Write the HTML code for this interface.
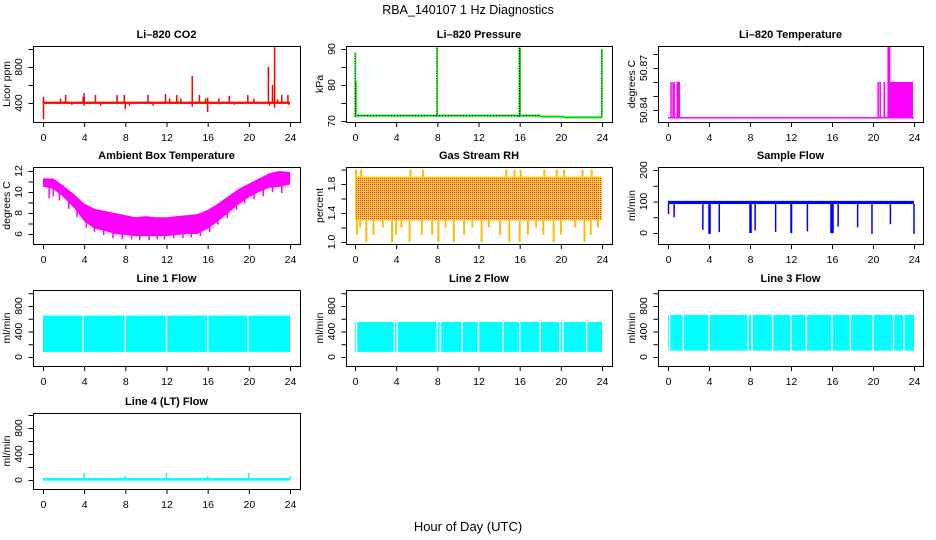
<!DOCTYPE html>
<html><head><meta charset="utf-8"><style>
html,body{margin:0;padding:0;background:#fff;}
svg{display:block;font-family:"Liberation Sans",sans-serif;}
</style></head><body>
<svg id="chart" width="936" height="540" viewBox="0 0 936 540" xmlns="http://www.w3.org/2000/svg">
<defs>
<pattern id="rhpat" width="2" height="2" patternUnits="userSpaceOnUse">
<rect width="2" height="2" fill="#ffdd00"/><rect width="1" height="1" fill="#ff2000"/>
</pattern>
</defs>
<text x="468" y="14" text-anchor="middle" font-size="12.5">RBA_140107  1 Hz Diagnostics</text>
<text x="468" y="531" text-anchor="middle" font-size="13">Hour of Day (UTC)</text>
</svg>
<script>
// ---- data ----
const hourTicks = [0,4,8,12,16,20,24];
// CO2
const co2Base = 400;
const co2SpikeHours = [0.05,0.05,1.7,2.2,2.8,3.9,4.0,4.0,5.1,5.6,7.2,7.9,8.0,8.4,10.2,10.7,11.9,12.3,13.0,13.4,14.5,14.5,15.2,15.8,16.0,16.0,17.1,18.1,18.6,19.9,20.5,21.9,22.0,22.3,22.5,22.5,22.8,23.2,23.8,23.9];
const co2SpikeVals  = [220,470,450,490,380,470,510,370,490,370,490,490,330,370,490,370,500,450,490,450,700,360,490,450,300,460,450,480,380,490,450,800,370,600,1020,350,440,490,490,380];
// Pressure
const presBaseHours = [0,18,18,20.3,20.3,24];
const presBaseVals  = [71.5,71.5,71.2,71.2,71.0,71.0];
const presSpikeHours = [0.05,0.1,8.0,16.0,16.05,24.0];
const presSpikeVals  = [89,81,90.5,90.5,90.3,90];
// Li-820 Temperature
const tempBase = 50.8345;
const tempSpikeHours = [0.3,0.5,0.6,0.9,1.0,1.1,20.5,20.7,21.1];
const tempSpikeVals  = [50.86,50.86,50.86,50.86,50.86,50.86,50.86,50.86,50.86];
const tempPeakHours = [21.5,21.6];
const tempPeakVals = [50.885,50.885];
const tempBlockStart = 21.6, tempBlockEnd = 23.9, tempBlockHi = 50.86;
// Ambient box temperature envelope
const ambHours = [0,1,2,3,4,5,6,7,8,9,10,11,12,13,14,15,16,17,18,19,20,21,22,23,24];
const ambHi = [11.3,11.3,10.6,9.8,8.9,8.4,8.2,8.0,7.8,7.6,7.7,7.6,7.6,7.7,7.8,7.9,8.3,8.9,9.6,10.3,10.8,11.3,11.8,12.0,11.9];
const ambLo = [10.5,10.3,9.5,8.5,7.2,6.5,6.3,6.0,5.9,5.8,5.8,5.8,5.8,5.9,6.0,6.0,6.5,7.2,8.0,8.8,9.5,10.0,10.4,10.5,10.7];
const ambDipHours = [0.6,1.0,1.6,2.5,3.3,4.2,5.0,5.9,6.8,7.7,8.6,9.4,10.3,11.1,11.8,12.7,13.6,14.4,15.3,16.2,17.0,17.9,18.8,19.6,20.5,21.4,22.3,23.2];
const ambDipVals  = [9.4,9.6,9.2,8.4,7.6,6.6,6.2,5.9,5.6,5.5,5.5,5.4,5.4,5.5,5.5,5.6,5.6,5.7,5.8,6.2,6.9,7.5,8.3,8.9,9.3,9.6,10.0,9.9];
// Gas stream RH
const rhHi = 1.9, rhLo = 1.3;
const rhDipHours = [0.2,0.5,1.1,1.8,2.7,3.6,4.0,4.5,5.3,6.5,7.5,8.1,8.8,9.6,10.6,11.4,12.3,13.0,14.1,15.0,16.0,16.8,17.6,18.3,19.3,20.0,21.4,22.3,22.9,23.6];
const rhDipVals  = [1.1,1.2,1.0,1.1,1.2,1.0,1.1,1.2,1.0,1.1,1.1,1.0,1.2,1.0,1.1,1.2,1.0,1.2,1.1,1.0,1.0,1.1,1.2,1.1,1.0,1.1,1.2,1.0,1.1,1.2];
const rhUpHours = [0.1,0.6,5.4,6.6,14.7,15.5,16.1,18.4,19.6,20.3,22.1,23.0];
const rhUpVals  = [2.0,2.0,2.0,2.0,2.0,2.0,2.0,2.0,2.0,2.0,2.0,2.0];
// Sample flow
const sfBaseHi = 102, sfBaseLo = 92;
const sfDipHours = [0.05,0.6,3.4,4.0,4.1,5.0,8.0,8.1,8.5,10.5,12.0,12.05,13.6,15.9,16.0,16.1,16.6,18.5,19.9,21.7,24.0];
const sfDipVals  = [60,50,10,-3,-3,3,0,0,8,3,0,0,5,0,0,0,20,18,-3,28,-3];
// Line flows
const l1Hi = 650, l1Lo = 80, l1Gaps = [3.9,8.0,12.0,16.0,19.9];
const l2Hi = 550, l2Lo = 80, l2Gaps = [0.15,3.8,4.1,8.0,8.3,10.4,12.0,14.4,16.0,18.0,19.9,20.2,22.5];
const l3Hi = 660, l3Lo = 100, l3Gaps = [0.15,1.5,4.0,7.8,8.2,10.2,12.0,13.5,16.0,17.8,20.0,22.0,23.0];
// Line 4
const l4Base = 10;
const l4SpikeHours = [4,8,12,16,20,24];
const l4SpikeVals  = [110,60,110,60,110,60];

// ---- layout ----
const NS = "http://www.w3.org/2000/svg";
const svg = document.getElementById('chart');
function mk(tag, attrs, parent){ const e=document.createElementNS(NS,tag); for(const k in attrs) e.setAttribute(k,attrs[k]); (parent||svg).appendChild(e); return e; }

function panel(o){
  const g = mk('g',{});
  
  
  const x0=o.px0, x1=o.px1;
  const X = h => x0 + (x1-x0)*h/24;
  const Y = v => o.y0 + (o.y1-o.y0)*(v-o.v0)/(o.v1-o.v0);
  const s = mk('g',{},g);
  
  
  o.draw(s,X,Y);
  const box = mk('rect',{x:o.bx0+0.5,y:o.by0+0.5,width:o.bx1-o.bx0,height:o.by1-o.by0,fill:'none',stroke:'#000','stroke-width':1},g);
  
  
  const t = mk('text',{x:(o.bx0+o.bx1)/2,y:o.by0-8,'text-anchor':'middle','font-size':11,'font-weight':'bold'},g);
  t.textContent = o.title;
  
  
  const ax = mk('g',{stroke:'#000','stroke-width':1},g);
  
  
  hourTicks.forEach(h=>{
    mk('line',{x1:X(h)+0.5,x2:X(h)+0.5,y1:o.by1,y2:o.by1+5},ax);
    const tl = mk('text',{x:X(h)+0.5,y:o.by1+19,'text-anchor':'middle','font-size':10.5,stroke:'none'},g);
    tl.textContent = h;
    
    
  });
  const ay = mk('g',{stroke:'#000','stroke-width':1},g);
  
  
  const ya = o.bx0+0.5;
  o.ticks.forEach((v,i)=>{
    mk('line',{x1:ya-5,x2:ya,y1:Y(v)+0.5,y2:Y(v)+0.5},ay);
    if(o.labels[i]!==''){
      const yl = mk('text',{transform:`translate(${o.bx0-11},${Y(v)}) rotate(-90)`,'text-anchor':'middle','font-size':10.5},g);
      yl.textContent = o.labels[i];
      
      
    }
  });
  const yt = mk('text',{transform:`translate(${o.bx0-23},${(o.by0+o.by1)/2}) rotate(-90)`,'text-anchor':'middle','font-size':10.5},g);
  yt.textContent = o.ylab;
  
  
}
function vline(p,x,ya,yb,col,w){ return mk('line',{x1:x,x2:x,y1:ya,y2:yb,stroke:col,'stroke-width':w||1.5},p); }
function band(p,X,Y,h0,h1,lo,hi,fill){ return mk('rect',{x:X(h0),y:Y(hi),width:X(h1)-X(h0),height:Y(lo)-Y(hi),fill:fill},p); }

const C1={bx0:33,bx1:300,px0:43,px1:290}, C2={bx0:346,bx1:612,px0:355,px1:602}, C3={bx0:658,bx1:923,px0:668,px1:914};
const R1={by0:46,by1:122}, R2={by0:167,by1:244}, R3={by0:290,by1:366}, R4={by0:413,by1:489};
const flowTicks=[0,200,400,600,800,1000], flowLabels=['0','','400','','800',''];

panel(Object.assign({name:'co2-panel',title:'Li\u2013820 CO2',ylab:'Licor ppm',v0:400,v1:800,y0:103,y1:67,ticks:[400,600,800,1000],labels:['400','','800',''],
 draw:(s,X,Y)=>{
  band(s,X,Y,0,24,390,415,'#ff0000');
  co2SpikeHours.forEach((h,i)=>{ const l=vline(s,X(h),Y(co2Base),Y(co2SpikeVals[i]),'#ff0000',1.5);  });
 }},C1,R1));

panel(Object.assign({name:'pressure-panel',title:'Li\u2013820 Pressure',ylab:'kPa',v0:70,v1:90,y0:121,y1:49,ticks:[70,75,80,85,90],labels:['70','','80','','90'],
 draw:(s,X,Y)=>{
  for(let i=0;i<presBaseHours.length-1;i++){
    const l=mk('line',{x1:X(presBaseHours[i]),x2:X(presBaseHours[i+1]),y1:Y(presBaseVals[i]),y2:Y(presBaseVals[i+1]),stroke:'#00dd00','stroke-width':2},s);
    
  }
  mk('line',{x1:X(0),x2:X(18),y1:Y(71.5),y2:Y(71.5),stroke:'#000','stroke-width':1,'stroke-dasharray':'1 2'},s);
  presSpikeHours.forEach((h,i)=>{ vline(s,X(h),Y(71.2),Y(presSpikeVals[i]),'#00dd00',1.5); mk('line',{x1:X(h)-0.7,x2:X(h)-0.7,y1:Y(71.2),y2:Y(presSpikeVals[i]),stroke:'#000','stroke-width':0.8,'stroke-dasharray':'1 1.5'},s); });
 }},C2,R1));

panel(Object.assign({name:'li820-temperature-panel',title:'Li\u2013820 Temperature',ylab:'degrees C',v0:50.84,v1:50.87,y0:110,y1:68,ticks:[50.84,50.85,50.86,50.87,50.88],labels:['50.84','','','50.87',''],
 draw:(s,X,Y)=>{
  mk('line',{x1:X(0),x2:X(24),y1:Y(tempBase),y2:Y(tempBase),stroke:'#ff00ff','stroke-width':1.5},s);
  tempSpikeHours.forEach((h,i)=>vline(s,X(h),Y(tempBase),Y(tempSpikeVals[i]),'#ff00ff',1.5));
  tempPeakHours.forEach((h,i)=>vline(s,X(h),Y(tempBase),Y(tempPeakVals[i]),'#ff00ff',2));
  band(s,X,Y,tempBlockStart,tempBlockEnd,tempBase,tempBlockHi,'#ff00ff');
 }},C3,R1));

panel(Object.assign({name:'ambient-temperature-panel',title:'Ambient Box Temperature',ylab:'degrees C',v0:6,v1:12,y0:234,y1:171,ticks:[6,7,8,9,10,11,12],labels:['6','','8','','10','','12'],
 draw:(s,X,Y)=>{
  const pts = ambHours.map((h,i)=>X(h)+','+Y(ambHi[i])).concat(ambHours.slice().reverse().map((h,j)=>X(h)+','+Y(ambLo[ambHours.length-1-j])));
  const p=mk('polygon',{points:pts.join(' '),fill:'#ff00ff'},s);
  
  ambDipHours.forEach((h,i)=>vline(s,X(h),Y(ambDipVals[i]+1),Y(ambDipVals[i]),'#ff00ff',1.5));
 }},C1,R2));

panel(Object.assign({name:'rh-panel',title:'Gas Stream RH',ylab:'percent',v0:1.0,v1:1.8,y0:242,y1:184,ticks:[1.0,1.2,1.4,1.6,1.8,2.0],labels:['1.0','','1.4','','1.8',''],
 draw:(s,X,Y)=>{
  band(s,X,Y,0,24,rhLo,rhHi,'url(#rhpat)');
  rhDipHours.forEach((h,i)=>vline(s,X(h),Y(rhLo),Y(rhDipVals[i]),'#ffbb00',2));
  rhUpHours.forEach((h,i)=>vline(s,X(h),Y(rhHi),Y(rhUpVals[i]),'#ffbb00',2));
 }},C2,R2));

panel(Object.assign({name:'sample-flow-panel',title:'Sample Flow',ylab:'ml/min',v0:0,v1:200,y0:233,y1:170,ticks:[0,50,100,150,200],labels:['0','','100','','200'],
 draw:(s,X,Y)=>{
  band(s,X,Y,0,24,sfBaseLo,sfBaseHi,'#0000ff');
  sfDipHours.forEach((h,i)=>vline(s,X(h),Y(sfBaseLo),Y(sfDipVals[i]),'#0000ff',1.5));
 }},C3,R2));

function flowPanel(name,title,C,R,hi,lo,gaps){
  panel(Object.assign({name:name,title:title,ylab:'ml/min',v0:0,v1:800,y0:R.by0+67,y1:R.by0+16,ticks:flowTicks,labels:flowLabels,
   draw:(s,X,Y)=>{
    band(s,X,Y,0,24,lo,hi,'#00ffff');
    gaps.forEach(h=>vline(s,X(h),Y(lo)+1,Y(hi)-1,'#ffffff',1.5));
   }},C,R));
}
flowPanel('line1-flow-panel','Line 1 Flow',C1,R3,l1Hi,l1Lo,l1Gaps);
flowPanel('line2-flow-panel','Line 2 Flow',C2,R3,l2Hi,l2Lo,l2Gaps);
flowPanel('line3-flow-panel','Line 3 Flow',C3,R3,l3Hi,l3Lo,l3Gaps);

panel(Object.assign({name:'line4-flow-panel',title:'Line 4 (LT) Flow',ylab:'ml/min',v0:0,v1:800,y0:480,y1:428,ticks:flowTicks,labels:flowLabels,
 draw:(s,X,Y)=>{
  band(s,X,Y,0,24,-10,l4Base+20,'#00ffff');
  l4SpikeHours.forEach((h,i)=>vline(s,X(h),Y(l4Base),Y(l4SpikeVals[i]),'#00ffff',1.5));
 }},C1,R4));
</script>
</body></html>
